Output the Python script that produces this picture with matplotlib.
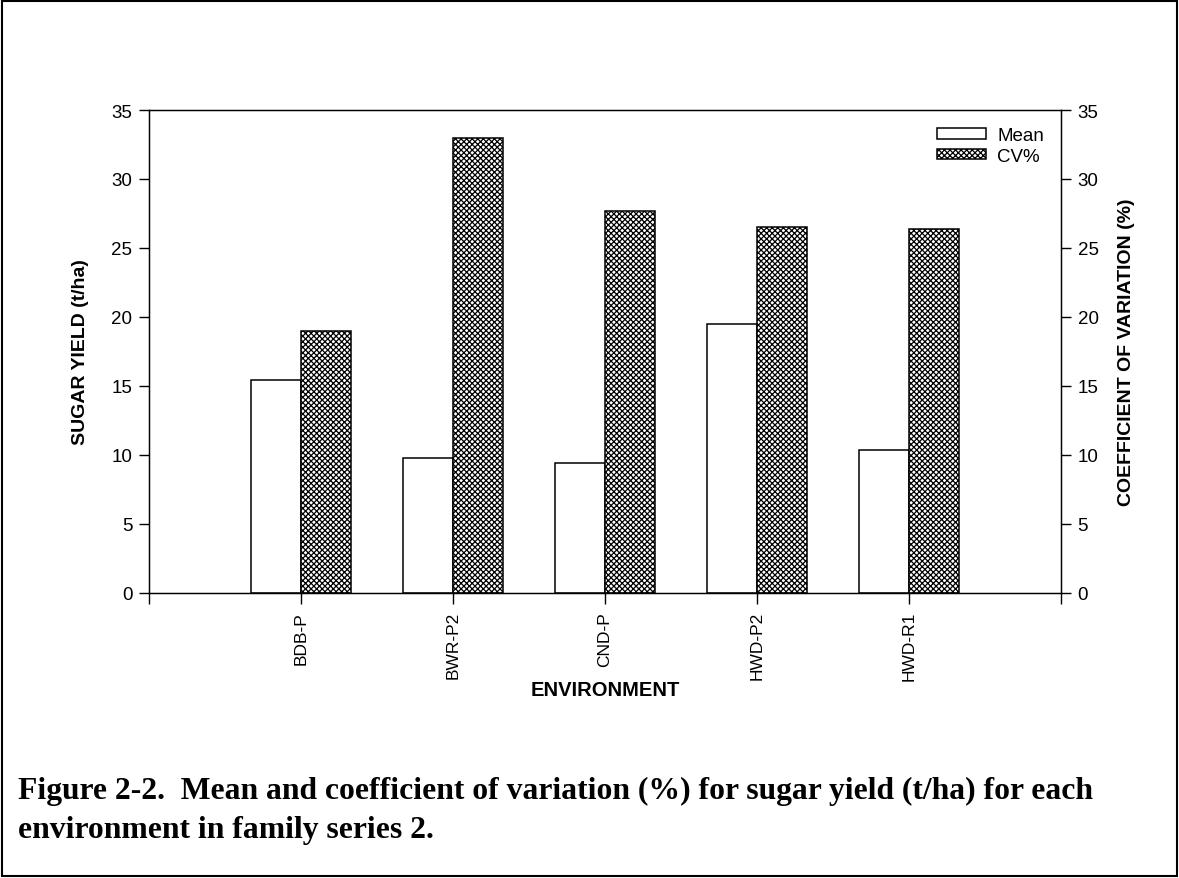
import matplotlib.pyplot as plt
import numpy as np

# values
environments = ['BDB-P', 'BWR-P2', 'CND-P', 'HWD-P2', 'HWD-R1']
mean_yield = [15.4, 9.8, 9.4, 19.5, 10.35]
cv_pct = [19.0, 33.0, 27.7, 26.55, 26.4]

plt.rcParams['font.family'] = ['Liberation Sans', 'DejaVu Sans']
plt.rcParams['hatch.linewidth'] = 0.9

fig = plt.figure(figsize=(11.79, 8.79), dpi=100)
ax = fig.add_axes([149 / 1179, 1 - 594 / 879, (1061 - 149) / 1179, (594 - 111) / 879])

x = np.arange(1, len(environments) + 1)
w = 0.33
ax.bar(x - w, mean_yield, width=w, align='edge', facecolor='white',
       edgecolor='black', linewidth=1.1, label='Mean')
ax.bar(x, cv_pct, width=w, align='edge', facecolor='white',
       edgecolor='black', linewidth=1.1, hatch='xxxxxx', label='CV%')

ax.set_xlim(0, 6)
ax.set_ylim(0, 35)
ax.set_xticks(np.arange(0, 7))
ax.set_xticklabels([''] + environments + [''], rotation=90, fontsize=12.5)
ax.set_yticks(np.arange(0, 36, 5))
ax.tick_params(axis='y', direction='out', length=7, width=1, labelsize=13.5, pad=5)
ax.tick_params(axis='x', direction='out', length=8, width=1, pad=5)
for s in ax.spines.values():
    s.set_linewidth(1)

ax.set_ylabel('SUGAR YIELD (t/ha)', fontsize=14, fontweight='bold', labelpad=16)
ax.set_xlabel('ENVIRONMENT', fontsize=14.5, fontweight='bold', va='center')
ax.xaxis.set_label_coords(0.5, -0.2)

ax2 = ax.twinx()
ax2.set_ylim(0, 35)
ax2.set_yticks(np.arange(0, 36, 5))
ax2.tick_params(axis='y', direction='out', length=7, width=1, labelsize=13.5, pad=5)
ax2.set_ylabel('COEFFICIENT OF VARIATION (%)', fontsize=14, fontweight='bold', labelpad=14)

ax.legend(loc='upper right', frameon=False, fontsize=13.5, handlelength=2.6,
          handleheight=0.5, labelspacing=0.2, handletextpad=0.6, borderaxespad=0.5)

fig.text(18 / 1179, 1 - 791 / 879,
         'Figure 2-2.  Mean and coefficient of variation (%) for sugar yield (t/ha) for each',
         fontsize=22.8, fontweight='bold', family='Liberation Serif', va='center')
fig.text(18 / 1179, 1 - 831 / 879, 'environment in family series 2.',
         fontsize=22.8, fontweight='bold', family='Liberation Serif', va='center')

border = plt.Rectangle((2 / 1179, 2 / 879), 1 - 4 / 1179, 1 - 4 / 879,
                       transform=fig.transFigure, fill=False, edgecolor='black', linewidth=1.5)
fig.patches.append(border)

fig.savefig('out.png', dpi=100)
